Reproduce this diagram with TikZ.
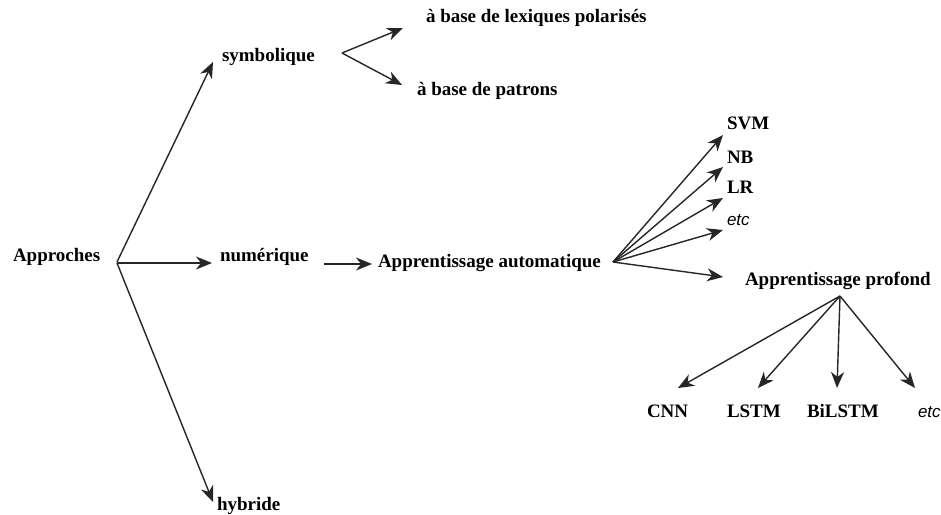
\documentclass[tikz,border=0pt]{standalone}
\usepackage{fontspec}
\setmainfont{Liberation Serif}
\newfontfamily\etcfont{Liberation Sans}
\usetikzlibrary{arrows.meta,calc}
\definecolor{linecol}{HTML}{262626}
\tikzset{
  lbl/.style={anchor=base west,inner sep=0pt,outer sep=0pt,font=\fontsize{19}{22}\selectfont\bfseries,text=black},
  etclbl/.style={anchor=base west,inner sep=0pt,outer sep=0pt,font=\fontsize{17}{20}\selectfont\etcfont\itshape,text=black},
  arr/.style={draw=linecol,line width=1.4pt,-{Stealth[length=16pt,width=13pt,inset=5pt]}}
}
\begin{document}
\begin{tikzpicture}[x=1pt,y=-1pt]
\useasboundingbox[fill=white] (0,0) rectangle (941,514);

% labels
\node[lbl] (app)  at (13,261)  {Approches};
\node[lbl] (sym)  at (222,61)  {symbolique};
\node[lbl] (num)  at (220,261) {numérique};
\node[lbl] (hyb)  at (217,510) {hybride};
\node[lbl] (lex)  at (426,22)  {à base de lexiques polarisés};
\node[lbl] (pat)  at (417,95)  {à base de patrons};
\node[lbl] (aa)   at (378,267) {Apprentissage automatique};
\node[lbl] (svm)  at (727,129) {SVM};
\node[lbl] (nb)   at (727,163) {NB};
\node[lbl] (lr)   at (727,193) {LR};
\node[etclbl] (etca) at (727,225) {etc};
\node[lbl] (ap)   at (745,285) {Apprentissage profond};
\node[lbl] (cnn)  at (647,417) {CNN};
\node[lbl] (lstm) at (727,417) {LSTM};
\node[lbl] (bil)  at (807,417) {BiLSTM};
\node[etclbl] (etcb) at (918,417) {etc};

% fan points
\coordinate (appo) at ($(app.base west)+(104,1)$);
\coordinate (symo) at ($(sym.base west)+(120,-8)$);
\coordinate (aao)  at ($(aa.base west)+(235,-5)$);
\coordinate (apo)  at ($(ap.base west)+(95,11)$);

% Approches
\draw[arr] (appo) -- ($(sym.base west)+(-9,1)$);
\draw[arr] ($(appo)+(0,1)$) -- ($(num.base west)+(-8,2)$);
\draw[arr] ($(appo)+(0,1)$) -- ($(hyb.base west)+(-4,-8)$);

% symbolique
\draw[arr] (symo) -- ($(lex.base west)+(-23,6)$);
\draw[arr] (symo) -- ($(pat.base west)+(-15,-10)$);

% numerique
\draw[arr] ($(num.base west)+(104,3)$) -- ($(aa.base west)+(-6,-3)$);

% apprentissage automatique
\draw[arr] (aao) -- ($(svm.base west)+(-4,6)$);
\draw[arr] (aao) -- ($(nb.base west)+(-4,4)$);
\draw[arr] (aao) -- ($(lr.base west)+(-4,5)$);
\draw[arr] (aao) -- ($(etca.base west)+(-4,5)$);
\draw[arr] (aao) -- ($(ap.base west)+(-22,-8)$);

% apprentissage profond
\draw[arr] (apo) -- ($(cnn.base west)+(31,-29)$);
\draw[arr] (apo) -- ($(lstm.base west)+(31,-29)$);
\draw[arr] (apo) -- ($(bil.base west)+(30,-29)$);
\draw[arr] (apo) -- ($(etcb.base west)+(-3,-29)$);
\end{tikzpicture}
\end{document}
